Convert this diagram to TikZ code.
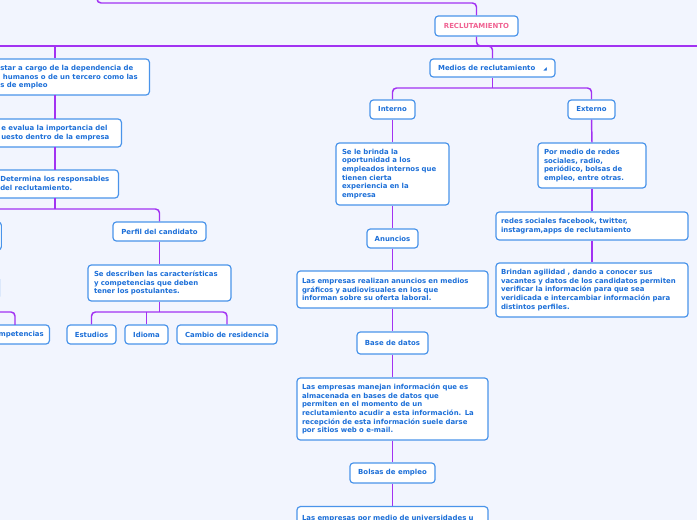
\documentclass[tikz,border=0pt]{standalone}
\usepackage{fontspec}
\setmainfont{DejaVu Sans}
\definecolor{bg}{HTML}{F2F5FE}
\definecolor{bd}{HTML}{4A94EA}
\definecolor{tx}{HTML}{1C6FD8}
\definecolor{ln}{HTML}{A232F2}
\definecolor{pk}{HTML}{F06292}
\begin{document}
\begin{tikzpicture}[x=0.75pt,y=-0.75pt,
 box/.style={draw=bd,fill=white,line width=0.9pt,rounded corners=2.5pt,font=\fontsize{5.2}{6.5}\selectfont\bfseries,text=tx,inner xsep=0pt,inner ysep=2pt},
 bx/.style n args={2}{box,minimum width={#1*0.75pt},minimum height={#2*0.75pt}},
 tw/.style={text width={#1*0.75pt},align=left},
 conn/.style={draw=ln,line width=1.1pt,rounded corners=3pt}]
\useasboundingbox (0,0) rectangle (697,520);
\fill[bg] (0,0) rectangle (697,520);
\begin{scope}
\clip (0,0) rectangle (697,520);
% nodes
\node[bx={83}{20},align=center,text=pk] (rec) at (476.5,26) {RECLUTAMIENTO};
\node[bx={125}{18},align=center] (med) at (492.5,68) {Medios de reclutamiento\hspace{6pt}{\fontsize{3.5}{4}\selectfont ◢}};
\node[bx={45}{19},align=center] (int) at (392.5,109.5) {Interno};
\node[bx={47}{19},align=center] (ext) at (591.5,109.5) {Externo};
\node[bx={113}{62},tw=101] (s1) at (392.5,174) {Se le brinda la\\oportunidad a los\\empleados internos que\\tienen cierta\\experiencia en la\\empresa};
\node[bx={51}{19},align=center] (anu) at (392.5,238.5) {Anuncios};
\node[bx={191}{37},tw=181] (s2) at (392.5,289.5) {Las empresas realizan anuncios en medios\\gráficos y audiovisuales en los que\\informan sobre su oferta laboral.};
\node[bx={71}{22},align=center] (bd) at (392.5,343) {Base de datos};
\node[bx={191}{62},tw=181] (s3) at (392.5,409) {Las empresas manejan información que es\\almacenada en bases de datos que\\permiten en el momento de un\\reclutamiento acudir a esta información. La\\recepción de esta información suele darse\\por sitios web o e-mail.};
\node[bx={85}{20},align=center] (bol) at (392.5,473) {Bolsas de empleo};
\node[bx={191}{40},tw=181,anchor=north,inner ysep=4pt] (s4) at (392.5,506) {Las empresas por medio de universidades u\\\ \\\ };
\node[bx={108}{45},tw=96] (e1) at (592,165.5) {Por medio de redes\\sociales, radio,\\periódico, bolsas de\\empleo, entre otras.};
\node[bx={192}{28},tw=182] (e2) at (592,226) {redes sociales facebook, twitter,\\instagram,apps de reclutamiento};
\node[bx={192}{54},tw=182] (e3) at (592,290) {Brindan agilidad , dando a conocer sus\\vacantes y datos de los candidatos permiten\\verificar la información para que sea\\veridicada e intercambiar información para\\distintos perfiles.};
% left side
\node[bx={250}{36},anchor=east] (l1) at (150,77) {};
\node[anchor=north west,font=\fontsize{5.2}{6.5}\selectfont\bfseries,text=tx,align=left,inner sep=0pt] at (0,65) {star a cargo de la dependencia de\\\hspace{2pt}humanos o de un tercero como las\\s de empleo};
\node[bx={200}{28},anchor=east] (l2) at (122,133) {};
\node[anchor=north west,font=\fontsize{5.2}{6.5}\selectfont\bfseries,text=tx,align=left,inner sep=0pt] at (1,125) {e evalua la importancia del\\uesto dentro de la empresa};
\node[bx={200}{28},anchor=east] (l3) at (119,184) {};
\node[anchor=north west,font=\fontsize{5.2}{6.5}\selectfont\bfseries,text=tx,align=left,inner sep=0pt] at (0,176) {Determina los responsables\\del reclutamiento.};
\node[bx={93}{19},align=center] (per) at (159.5,231.5) {Perfil del candidato};
\node[bx={60}{28},anchor=east] (lp) at (2,236) {};
\node[bx={60}{24},anchor=east] (lq) at (0,288) {};
\node[bx={143}{36},tw=131] (des) at (159.5,283) {Se describen las características\\y competencias que deben\\tener los postulantes.};
\node[bx={49}{19},align=center] (est) at (91.5,334.5) {Estudios};
\node[bx={43}{19},align=center] (idi) at (146.5,334.5) {Idioma};
\node[bx={100}{19},align=center] (cam) at (227,334.5) {Cambio de residencia};
\node[bx={110}{19},anchor=east] (com) at (50,334.5) {};
\node[anchor=east,font=\fontsize{5.2}{6.5}\selectfont\bfseries,text=tx,inner sep=0pt] at (44,334.5) {mpetencias};
\coordinate (top) at (97,-2);
\coordinate (leftend) at (-5,46);
\coordinate (rightend) at (705,46);
\coordinate (lpend) at (-5,209);
\coordinate (cend) at (-5,312);
% connectors
\draw[conn] (top) |- (476.5,3) -- (rec.north);
\draw[conn] (leftend) -- (rightend);
\draw[conn] (rec.south) |- (med.north |- 0,46) -- (med.north);
\draw[conn] (l1.north -| 55,0) -- (55,46);
\draw[conn] (int.north) |- (492.5,88) -| (ext.north);
\draw[conn] (med.south) -- (492.5,88);
\draw[conn] (int.south) -- (s1.north);
\draw[conn] (s1.south) -- (anu.north);
\draw[conn] (anu.south) -- (s2.north);
\draw[conn] (s2.south) -- (bd.north);
\draw[conn] (bd.south) -- (s3.north);
\draw[conn] (s3.south) -- (bol.north);
\draw[conn] (bol.south) -- (s4.north);
\draw[conn] (ext.south) -- (e1.north);
\draw[conn] (e1.south) -- (e2.north -| e1.south);
\draw[conn] (e2.south -| e1.south) -- (e3.north -| e1.south);
\draw[conn] (55,95) -- (55,119);
\draw[conn] (55,147) -- (55,170);
\draw[conn] (55,198) -- (55,209);
\draw[conn] (lpend) -| (per.north);
\draw[conn] (per.south) -- (des.north);
\draw[conn] (des.south) -- (159.5,312);
\draw[conn] (cend) -| (15,325);
\draw[conn] (est.north) |- (159.5,312) -| (cam.north);
\draw[conn] (idi.north) -- (146.5,312);
\end{scope}
\end{tikzpicture}
\end{document}
